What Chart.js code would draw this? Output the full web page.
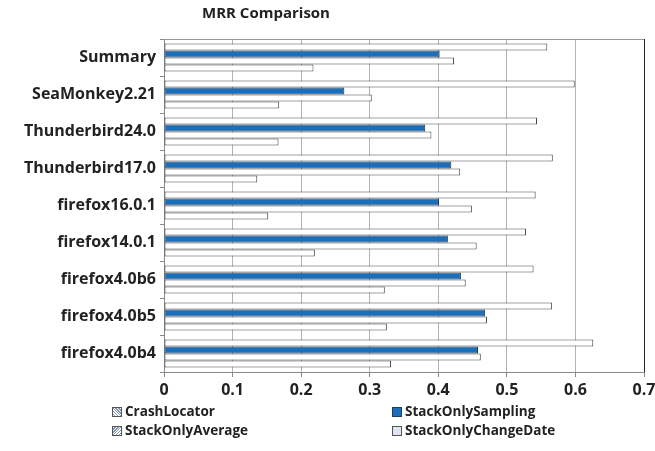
<!DOCTYPE html>
<html>
<head>
<meta charset="utf-8">
<script src="https://cdn.jsdelivr.net/npm/chart.js@4/dist/chart.umd.min.js"></script>
<style>
    html, body { margin: 0; padding: 0; background: #fff; }
    #wrap { position: relative; width: 655px; height: 451px; }
    .legend-item {
        position: absolute;
        font: bold 13.5px "Open Sans", sans-serif;
        color: #222;
        white-space: nowrap;
        line-height: 16px;
    }
    .legend-item span.box {
        display: inline-block;
        width: 8px;
        height: 8px;
        border: 1px solid #555;
        margin-right: 3px;
        vertical-align: -1px;
    }
</style>
</head>
<body>
<div id="wrap">
    <canvas id="chart" width="655" height="451"></canvas>
    <div class="legend-item" style="left:112px; top:403px;"><span class="box" style="background: repeating-linear-gradient(45deg, #fff 0 1px, #7f93b5 1px 2px);"></span>CrashLocator</div>
    <div class="legend-item" style="left:392px; top:403px;"><span class="box" style="background:#1a6fba; border-color:#1d3d66;"></span>StackOnlySampling</div>
    <div class="legend-item" style="left:112px; top:422px;"><span class="box" style="background: repeating-linear-gradient(-45deg, #fff 0 1px, #7f93b5 1px 2px);"></span>StackOnlyAverage</div>
    <div class="legend-item" style="left:392px; top:422px;"><span class="box" style="background: radial-gradient(#8aa0c4 40%, #dfe6f1 41%) 0 0 / 2px 2px;"></span>StackOnlyChangeDate</div>
</div>
<script>
// chart data
const categories = [
    'Summary', 'SeaMonkey2.21', 'Thunderbird24.0', 'Thunderbird17.0',
    'firefox16.0.1', 'firefox14.0.1', 'firefox4.0b6', 'firefox4.0b5', 'firefox4.0b4'
];
const crashLocator        = [0.559, 0.599, 0.544, 0.567, 0.542, 0.528, 0.539, 0.566, 0.626];
const stackOnlySampling   = [0.402, 0.263, 0.381, 0.419, 0.401, 0.414, 0.433, 0.468, 0.458];
const stackOnlyAverage    = [0.423, 0.303, 0.390, 0.432, 0.449, 0.456, 0.440, 0.471, 0.462];
const stackOnlyChangeDate = [0.218, 0.168, 0.167, 0.136, 0.152, 0.220, 0.322, 0.325, 0.331];
const xTicks = [0, 0.1, 0.2, 0.3, 0.4, 0.5, 0.6, 0.7];

const FONT = '"Open Sans", sans-serif';

// title + plot frame (top / right edges)
const framePlugin = {
    id: 'frame',
    afterDraw(chart) {
        const ctx = chart.ctx;
        const a = chart.chartArea;
        ctx.save();
        ctx.lineWidth = 1;
        ctx.strokeStyle = '#999';
        ctx.beginPath();
        ctx.moveTo(a.left, a.top + 0.5);
        ctx.lineTo(a.right, a.top + 0.5);
        ctx.stroke();
        ctx.strokeStyle = '#222';
        ctx.beginPath();
        ctx.moveTo(a.right + 0.5, a.top);
        ctx.lineTo(a.right + 0.5, a.bottom);
        ctx.stroke();

        ctx.fillStyle = '#222';
        ctx.font = 'bold 15px ' + FONT;
        ctx.textAlign = 'center';
        ctx.textBaseline = 'middle';
        ctx.fillText('MRR Comparison', 266, 14);
        ctx.restore();
    }
};

function dataset(label, data, color, border) {
    return {
        label: label,
        data: data,
        backgroundColor: color,
        borderColor: border,
        borderWidth: 1,
        borderSkipped: false,
        barPercentage: 1,
        categoryPercentage: 0.76
    };
}

const config = {
    type: 'bar',
    data: {
        labels: categories,
        datasets: [
            dataset('CrashLocator', crashLocator, '#ffffff', '#444'),
            dataset('StackOnlySampling', stackOnlySampling, '#1a6fba', '#1f2f45'),
            dataset('StackOnlyAverage', stackOnlyAverage, '#ffffff', '#444'),
            dataset('StackOnlyChangeDate', stackOnlyChangeDate, '#ffffff', '#444')
        ]
    },
    options: {
        indexAxis: 'y',
        responsive: false,
        animation: false,
        layout: { padding: { top: 39, right: 0, left: 0, bottom: 0 } },
        plugins: {
            legend: { display: false },
            title: { display: false },
            tooltip: { enabled: false }
        },
        scales: {
            x: {
                min: 0,
                max: 0.7,
                afterBuildTicks: scale => { scale.ticks = xTicks.map(v => ({ value: v })); },
                afterFit: scale => {
                    scale.height = 79;
                    scale.paddingRight = 11;
                    scale.paddingLeft = 0;
                },
                border: { color: '#888', width: 1 },
                grid: {
                    color: '#b3b3b3',
                    tickColor: '#888',
                    tickLength: 5,
                    lineWidth: 1
                },
                ticks: {
                    color: '#222',
                    padding: 4,
                    font: { family: FONT, size: 16, weight: 'bold' },
                    callback: v => String(Math.round(v * 10) / 10)
                }
            },
            y: {
                afterFit: scale => {
                    scale.width = 164;
                    scale.paddingTop = 0;
                    scale.paddingBottom = 0;
                },
                border: { color: '#888', width: 1 },
                grid: {
                    offset: true,
                    drawOnChartArea: false,
                    tickColor: '#888',
                    tickLength: 4
                },
                ticks: {
                    color: '#222',
                    padding: 4,
                    font: { family: FONT, size: 16, weight: 'bold' }
                }
            }
        }
    },
    plugins: [framePlugin]
};

new Chart(document.getElementById('chart'), config);
</script>
</body>
</html>
